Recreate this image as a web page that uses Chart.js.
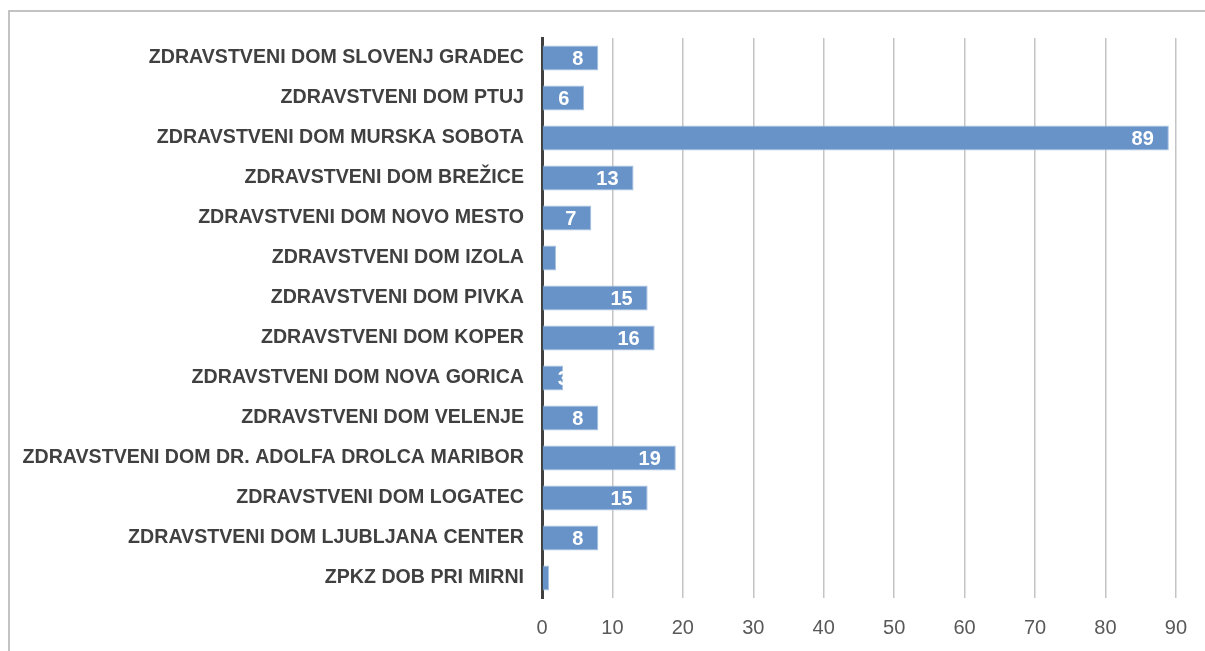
<!DOCTYPE html>
<html>
<head>
<meta charset="utf-8">
<script src="https://cdn.jsdelivr.net/npm/chart.js@4/dist/chart.umd.min.js"></script>
<style>
  html, body { margin: 0; padding: 0; background: #ffffff; }
  #wrap { position: relative; width: 1205px; height: 651px; overflow: hidden; }
  #frame { position: absolute; left: 8px; top: 10px; width: 1300px; height: 700px;
           border-left: 2px solid #c3c3c3; border-top: 2px solid #c3c3c3; }
  canvas { position: absolute; left: 0; top: 0; }
</style>
</head>
<body>
<div id="wrap">
  <div id="frame"></div>
  <canvas id="c" width="1205" height="651"></canvas>
</div>
<script>
const categories = [
  "ZDRAVSTVENI DOM SLOVENJ GRADEC",
  "ZDRAVSTVENI DOM PTUJ",
  "ZDRAVSTVENI DOM MURSKA SOBOTA",
  "ZDRAVSTVENI DOM BREŽICE",
  "ZDRAVSTVENI DOM NOVO MESTO",
  "ZDRAVSTVENI DOM IZOLA",
  "ZDRAVSTVENI DOM PIVKA",
  "ZDRAVSTVENI DOM KOPER",
  "ZDRAVSTVENI DOM NOVA GORICA",
  "ZDRAVSTVENI DOM VELENJE",
  "ZDRAVSTVENI DOM DR. ADOLFA DROLCA MARIBOR",
  "ZDRAVSTVENI DOM LOGATEC",
  "ZDRAVSTVENI DOM LJUBLJANA CENTER",
  "ZPKZ DOB PRI MIRNI"
];
const values = [8, 6, 89, 13, 7, 2, 15, 16, 3, 8, 19, 15, 8, 1];
const xTickValues = [0, 10, 20, 30, 40, 50, 60, 70, 80, 90];

const barLabels = {
  id: 'barLabels',
  afterDatasetsDraw(chart) {
    const ctx = chart.ctx;
    const meta = chart.getDatasetMeta(0);
    ctx.save();
    ctx.font = 'bold 20px "Liberation Sans", Arial, sans-serif';
    ctx.fillStyle = '#ffffff';
    ctx.textBaseline = 'middle';
    meta.data.forEach((bar, i) => {
      const v = values[i];
      const txt = String(v);
      const w = ctx.measureText(txt).width;
      const start = bar.base, end = bar.x, h = bar.height;
      ctx.save();
      ctx.beginPath();
      ctx.rect(start, bar.y - h / 2, end - start, h);
      ctx.clip();
      if (end - start >= w + 30) {
        ctx.textAlign = 'right';
        ctx.fillText(txt, end - 15, bar.y + 1);
      } else {
        ctx.textAlign = 'left';
        ctx.fillText(txt, start + 15, bar.y + 1);
      }
      ctx.restore();
    });
    ctx.restore();
  }
};

new Chart(document.getElementById('c'), {
  type: 'bar',
  data: {
    labels: categories,
    datasets: [{
      data: values,
      backgroundColor: '#6893c8',
      borderColor: '#a7c1e2',
      borderWidth: 1,
      borderSkipped: 'start',
      barPercentage: 0.62,
      categoryPercentage: 1.0
    }]
  },
  options: {
    indexAxis: 'y',
    responsive: false,
    animation: false,
    layout: { padding: { top: 38, right: 28, left: 0, bottom: 0 } },
    plugins: { legend: { display: false }, tooltip: { enabled: false } },
    scales: {
      x: {
        min: 0, max: 90,
        afterFit(scale) { scale.height = 53; },
        afterBuildTicks(scale) { scale.ticks = xTickValues.map(v => ({ value: v })); },
        grid: { color: '#c4c4c4', lineWidth: 1.5, drawTicks: false },
        border: { display: false },
        ticks: {
          padding: 18,
          color: '#595959',
          font: { family: '"Liberation Sans", Arial, sans-serif', size: 20 }
        }
      },
      y: {
        afterFit(scale) { scale.width = 542; },
        grid: { display: false, drawTicks: false },
        border: { color: '#404040', width: 3 },
        ticks: {
          padding: 18,
          color: '#404040',
          font: { family: '"Liberation Sans", Arial, sans-serif', size: 19.6, weight: 'bold' }
        }
      }
    }
  },
  plugins: [barLabels]
});
</script>
</body>
</html>
